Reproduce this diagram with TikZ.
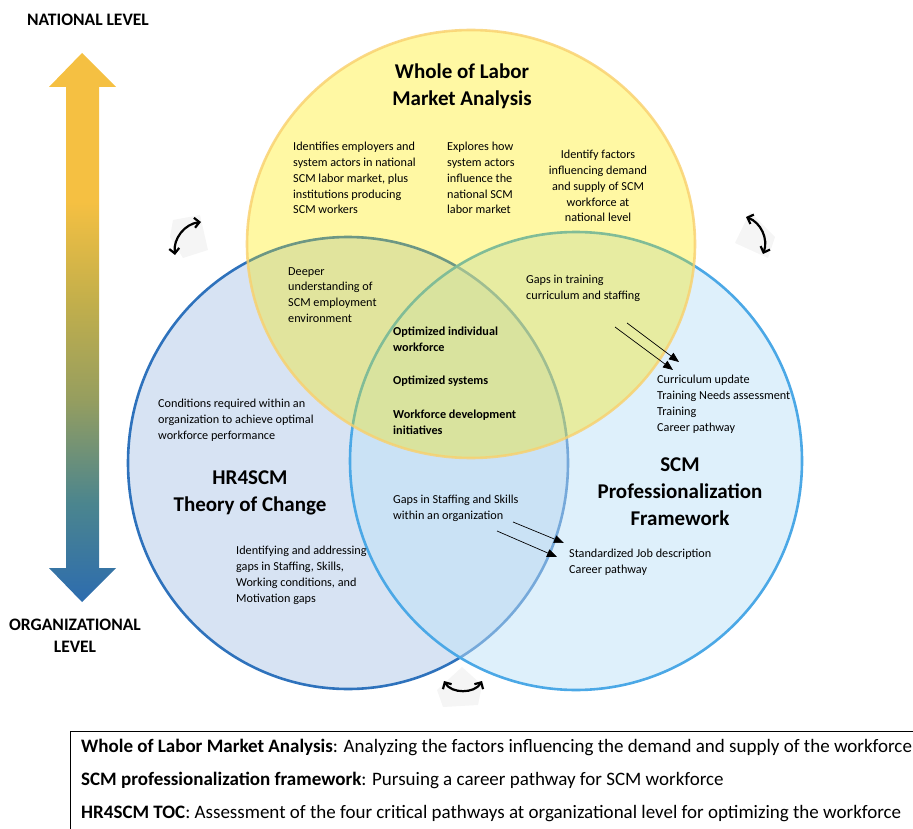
\documentclass[tikz,border=0pt]{standalone}
\usepackage{fontspec}
\setmainfont{Carlito}
\usepackage{tikz}
\usetikzlibrary{arrows.meta,positioning,calc}
\tikzset{every node/.append style={align=center}}
\definecolor{labourfill}{RGB}{255, 248, 160}
\definecolor{labourline}{RGB}{249, 208, 108}
\definecolor{hrfill}{RGB}{175, 200, 232}
\definecolor{hrline}{RGB}{46, 114, 188}
\definecolor{scmfill}{RGB}{190, 225, 248}
\definecolor{scmline}{RGB}{75, 168, 230}
\definecolor{lvlblue}{RGB}{45, 108, 175}
\definecolor{lvlteal}{RGB}{75, 133, 142}
\definecolor{lvlolive}{RGB}{150, 158, 95}
\definecolor{lvlmustard}{RGB}{195, 175, 75}
\definecolor{lvlyellow}{RGB}{245, 192, 66}
% the path box covers 25bp..75bp of the shading
\pgfdeclareverticalshading{levelshade}{100bp}{color(0bp)=(lvlblue); color(25bp)=(lvlblue); color(34bp)=(lvlteal); color(43.5bp)=(lvlolive); color(52.5bp)=(lvlmustard); color(61.5bp)=(lvlyellow); color(100bp)=(lvlyellow)}

\begin{document}
\begin{tikzpicture}[
    x=1pt, y=-1pt,
    note/.style={font=\fontsize{12.2}{15.8}\selectfont, align=left, inner sep=0pt, anchor=north west},
    keynote/.style={note, font=\fontsize{12.2}{15.8}\selectfont\bfseries},
    heading/.style={font=\fontsize{21}{27}\selectfont\bfseries, align=center, inner sep=0pt, anchor=north},
    level/.style={font=\fontsize{17.5}{22}\selectfont\bfseries, align=center, inner sep=0pt},
    legend/.style={font=\fontsize{19}{22}\selectfont, inner sep=0pt, anchor=base west},
    link/.style={-{Triangle[length=10pt,width=8pt]}, line width=0.7pt},
    turn/.style={{Straight Barb[length=5pt,width=10pt]}-{Straight Barb[length=5pt,width=10pt]}, line width=2.2pt},
    backdrop/.style={fill=black!4, draw=none}
]
    \useasboundingbox (0,0) rectangle (913,829);
    \clip (0,0) rectangle (913,829);

    % Level arrow
    \shade[shading=levelshade] (82,53) -- (116,87) -- (99,87) -- (99,568) -- (116,568) -- (82,602)
        -- (49,568) -- (66,568) -- (66,87) -- (49,87) -- cycle;
    \node[level] (national) at (88,20) {NATIONAL LEVEL};
    \node[level] (organizational) at (75,636) {ORGANIZATIONAL\\LEVEL};

    % Circles
    \draw[line width=2.6pt, hrline, fill=hrfill, fill opacity=0.5] (348,463) ellipse [x radius=220, y radius=226];
    \draw[line width=2.6pt, scmline, fill=scmfill, fill opacity=0.5] (576,461) ellipse [x radius=226, y radius=229];
    \begin{scope}[blend mode=multiply]
        \fill[labourfill, fill opacity=0.95] (471,244) ellipse [x radius=224, y radius=214];
    \end{scope}
    \fill[labourfill, fill opacity=0.3] (471,244) ellipse [x radius=224, y radius=214];
    \draw[line width=2.6pt, labourline, draw opacity=0.8] (471,244) ellipse [x radius=224, y radius=214];

    % Rotation icons
    \fill[backdrop] (173,220) -- (200,215) -- (208,250) -- (183,258) -- (170,237) -- cycle;
    \fill[backdrop] (735,243) -- (750,212) -- (775,237) -- (768,258) -- cycle;
    \fill[backdrop] (462,667) -- (482,685) -- (478,705) -- (443,707) -- (437,690) -- cycle;
    \coordinate (rotA1) at (175,255);
    \coordinate (rotA2) at (201,222);
    \coordinate (rotB1) at (746,217);
    \coordinate (rotB2) at (763,254);
    \coordinate (rotC1) at (444,681);
    \coordinate (rotC2) at (482,681);
    \draw[turn] (rotA1) to[bend left=45] (rotA2);
    \draw[turn] (rotB1) to[bend left=45] (rotB2);
    \draw[turn] (rotC1) to[bend right=60] (rotC2);

    % Nodes - labour market
    \node[heading] (labour) at (462,64) {Whole of Labor\\Market Analysis};
    \node[note] (employers) at (293,142) {Identifies employers and\\system actors in national\\SCM labor market, plus\\institutions producing\\SCM workers};
    \node[note] (explores) at (447,142) {Explores how\\system actors\\influence the\\national SCM\\labor market};
    \node[note, anchor=north, align=center] (factors) at (598,150) {Identify factors\\influencing demand\\and supply of SCM\\workforce at\\national level};
    \node[note] (deeper) at (288,267) {Deeper\\understanding of\\SCM employment\\environment};
    \node[note] (training) at (526,275) {Gaps in training\\curriculum and staffing};

    % Nodes - centre
    \node[keynote] (individual) at (393,327) {Optimized individual\\workforce};
    \node[keynote] (systems) at (393,376) {Optimized systems};
    \node[keynote] (initiatives) at (393,410) {Workforce development\\initiatives};

    % Nodes - HR4SCM
    \node[note] (conditions) at (158,399) {Conditions required within an\\organization to achieve optimal\\workforce performance};
    \node[heading] (hr) at (250,471) {HR4SCM\\Theory of Change};
    \node[note] (identifying) at (236,546) {Identifying and addressing\\gaps in Staffing, Skills,\\Working conditions, and\\Motivation gaps};
    \node[note] (staffing) at (393,495) {Gaps in Staffing and Skills\\within an organization};

    % Nodes - professionalization
    \node[heading] (scm) at (680,458) {SCM\\Professionalization\\Framework};
    \node[note] (curriculum) at (657,375) {Curriculum update\\Training Needs assessment\\Training\\Career pathway};
    \node[note] (jobs) at (569,549) {Standardized Job description\\Career pathway};

    % Arrows
    \coordinate (trainA) at (627,323);
    \coordinate (trainB) at (615,327);
    \coordinate (staffA) at (513,522);
    \coordinate (staffB) at (497,531);
    \draw[link] (trainA) -- ($(curriculum.north west)+(22,-13)$);
    \draw[link] (trainB) -- ($(curriculum.north west)+(16,-5)$);
    \draw[link] (staffA) -- ($(jobs.north west)+(-5,-6)$);
    \draw[link] (staffB) -- ($(jobs.north west)+(-12,8)$);

    % Legend
    \draw[line width=0.8pt] (70,731) rectangle (940,850);
    \node[legend] (keylabour) at (81,752) {\textbf{Whole of Labor Market Analysis}: Analyzing the factors influencing the demand and supply of the workforce};
    \node[legend] (keyscm) at (81,785) {\textbf{SCM professionalization framework}: Pursuing a career pathway for SCM workforce};
    \node[legend] (keyhr) at (81,818) {\textbf{HR4SCM TOC}: Assessment of the four critical pathways at organizational level for optimizing the workforce};
\end{tikzpicture}
\end{document}
